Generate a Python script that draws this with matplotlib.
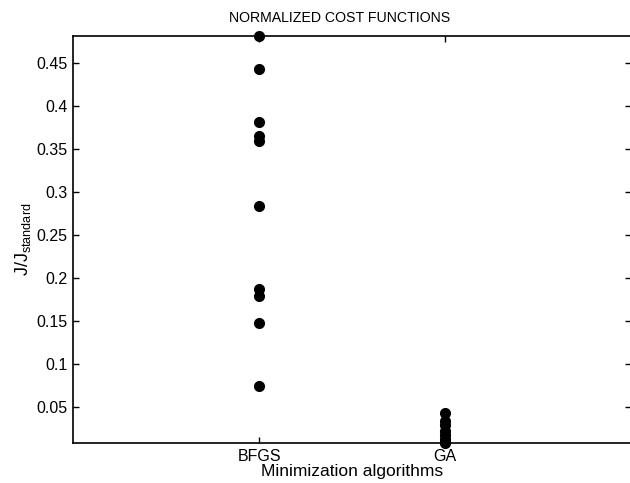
import matplotlib
matplotlib.use('Agg')
import matplotlib.pyplot as plt

plt.rcParams['font.family'] = ['Liberation Sans', 'DejaVu Sans']
plt.rcParams['mathtext.default'] = 'regular'

algoritmos = ['BFGS', 'GA']
bfgs = [0.482, 0.443, 0.382, 0.365, 0.360, 0.284, 0.187, 0.179, 0.148, 0.075]
ga = [0.043, 0.034, 0.029, 0.023, 0.018, 0.013, 0.010, 0.009]
yticks = [0.05, 0.1, 0.15, 0.2, 0.25, 0.3, 0.35, 0.4, 0.45]

fig = plt.figure(figsize=(6.3, 4.83), dpi=100)
ax = fig.add_axes([73 / 630, 1 - 443 / 483, (631.4 - 73) / 630, (443 - 35.7) / 483])

ax.plot([1] * len(bfgs), bfgs, 'o', color='black', markersize=7, clip_on=False, zorder=3)
ax.plot([2] * len(ga), ga, 'o', color='black', markersize=7, clip_on=False, zorder=3)

ax.set_xlim(0, 3)
ax.set_ylim(0.0085, 0.482)
ax.set_xticks([1, 2])
ax.set_xticklabels(algoritmos)
ax.set_yticks(yticks)
ax.set_yticklabels(['0.05', '0.1', '0.15', '0.2', '0.25', '0.3', '0.35', '0.4', '0.45'])
ax.tick_params(direction='in', length=4, width=1, labelsize=11.5, top=True, right=True, pad=4)
for s in ax.spines.values():
    s.set_linewidth(1.2)

ax.set_title('NORMALIZED COST FUNCTIONS', fontsize=10.2, pad=10, x=0.478)
ax.set_xlabel('Minimization algorithms', fontsize=12.5, labelpad=0)
ax.set_ylabel('J/J$_{standard}$', fontsize=13, labelpad=2)

fig.savefig('out.png', dpi=100)
